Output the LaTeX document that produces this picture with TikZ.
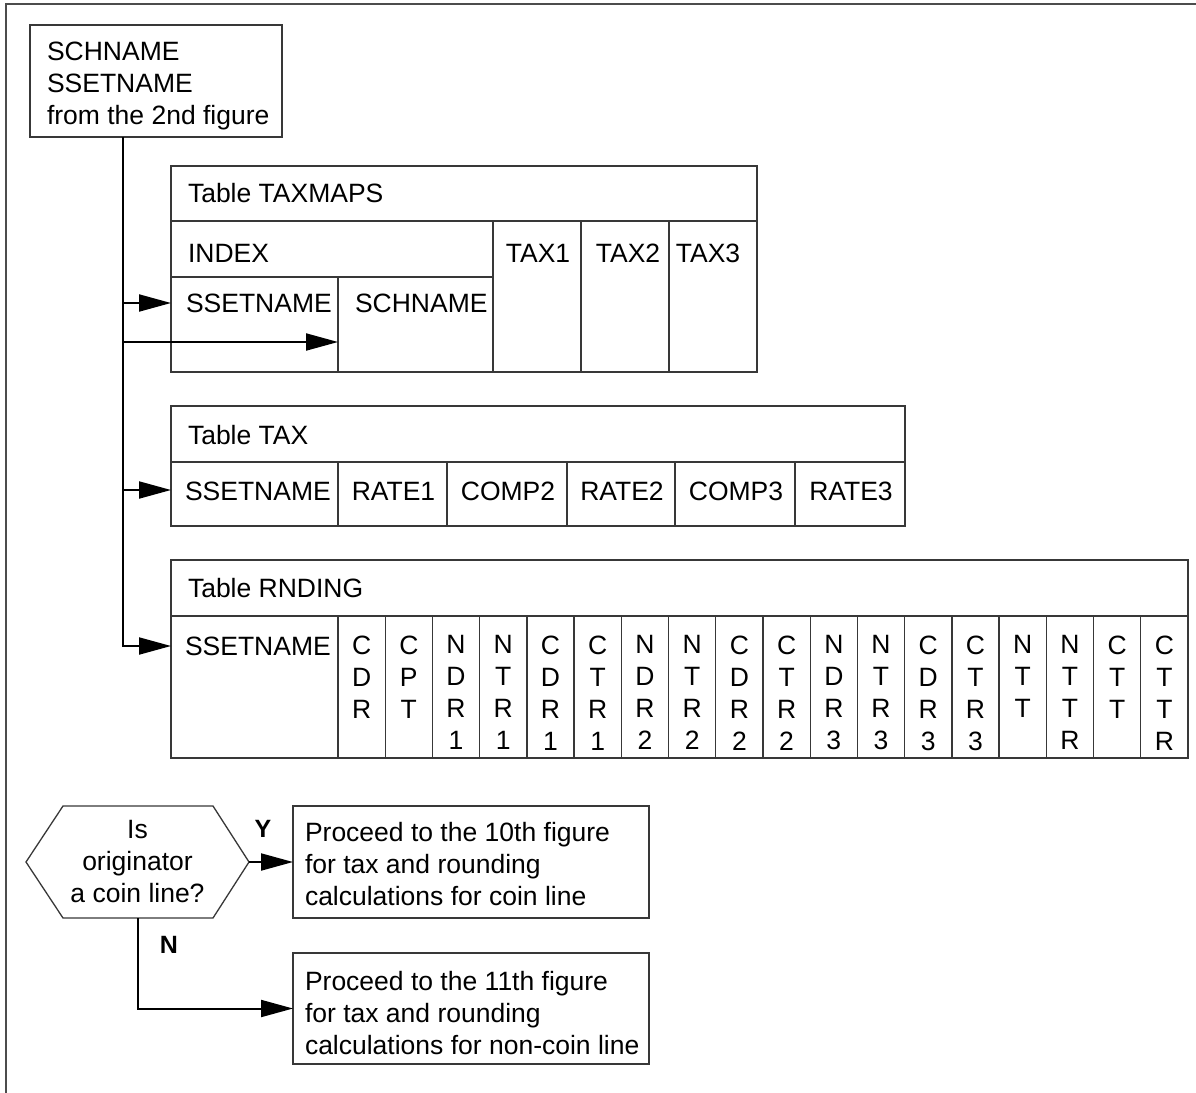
\documentclass[tikz,border=0pt]{standalone}
\usepackage{fontspec}
\setmainfont{Liberation Sans}
\usetikzlibrary{arrows.meta,calc}
\tikzset{
  frameline/.style={line width=1.2bp, draw=black!70},
  outline/.style={draw=black!78, line width=1.3bp},
  box/.style={outline, inner sep=0pt, outer sep=0pt, anchor=north west},
  txt/.style={inner sep=0pt, outer sep=0pt, font={\fontsize{26.5bp}{32bp}\selectfont}, text=black},
  lbl/.style={inner sep=0pt, outer sep=0pt, font={\fontsize{25bp}{30bp}\selectfont\bfseries}, text=black},
  conn/.style={line width=2bp, draw=black},
  arr/.style={-{Triangle[length=32bp,width=17bp]}},
}
\begin{document}
\begin{tikzpicture}[x=1bp,y=-1bp]
\useasboundingbox (0,0) rectangle (1196,1093);
\draw[frameline] (6,1093) -- (6,4) -- (1196,4);

% source box
\node[box, minimum width=252bp, minimum height=112bp] (src) at (30,25) {};
\node[txt, anchor=north west, align=left] (srct) at (47,41.5) {SCHNAME\\SSETNAME\\from the 2nd figure};

% Table TAXMAPS
\node[box, minimum width=586bp, minimum height=55bp] (tm) at (171,166) {};
\node[box, minimum width=322bp, minimum height=56bp] (tmidx) at (171,221) {};
\node[box, minimum width=167bp, minimum height=95bp] (tmss) at (171,277) {};
\node[box, minimum width=155bp, minimum height=95bp] (tmsc) at (338,277) {};
\node[box, minimum width=88bp, minimum height=151bp] (tmta) at (493,221) {};
\node[box, minimum width=88bp, minimum height=151bp] (tmtb) at (581,221) {};
\node[box, minimum width=88bp, minimum height=151bp] (tmtc) at (669,221) {};
\node[txt, anchor=base west] (tmT) at (188,202.5) {Table TAXMAPS};
\node[txt, anchor=base west] (tmidxT) at (188,262.5) {INDEX};
\node[txt, anchor=base west] (tmssT) at (186,312.5) {SSETNAME};
\node[txt, anchor=base west] (tmscT) at (355,312.5) {SCHNAME};
\node[txt, anchor=base] (tmtaT) at (538,262.5) {TAX1};
\node[txt, anchor=base] (tmtbT) at (628,262.5) {TAX2};
\node[txt, anchor=base] (tmtcT) at (708,262.5) {TAX3};

% Table TAX
\node[box, minimum width=734bp, minimum height=56bp] (tx) at (171,406) {};
\node[txt, anchor=base west] (txT) at (188,444) {Table TAX};
\node[box, minimum width=167bp, minimum height=64bp] (txss) at (171,462) {};
\node[txt, anchor=base west] (txssT) at (185,500.5) {SSETNAME};
\foreach \x/\w/\t/\n in {338/109/RATE1/a, 447/120/COMP2/b, 567/108/RATE2/c, 675/120/COMP3/d, 795/110/RATE3/e}{
  \node[box, minimum width=\w bp, minimum height=64bp] (tx\n) at (\x,462) {};
  \node[txt, anchor=base] (tx\n T) at (\x+\w/2+1,500.5) {\t};
}

% Table RNDING
\node[box, minimum width=1017bp, minimum height=56bp] (rn) at (171,560) {};
\node[txt, anchor=base west] (rnT) at (188,597.5) {Table RNDING};
\node[box, minimum width=167bp, minimum height=142bp] (rnss) at (171,616) {};
\node[txt, anchor=base west] (rnssT) at (185,655.5) {SSETNAME};
\foreach \t [count=\i] in {{C\\D\\R},{C\\P\\T},{N\\D\\R\\1},{N\\T\\R\\1},{C\\D\\R\\1},{C\\T\\R\\1},{N\\D\\R\\2},{N\\T\\R\\2},{C\\D\\R\\2},{C\\T\\R\\2},{N\\D\\R\\3},{N\\T\\R\\3},{C\\D\\R\\3},{C\\T\\R\\3},{N\\T\\T},{N\\T\\T\\R},{C\\T\\T},{C\\T\\T\\R}}{
  \pgfmathsetmacro\cx{338+(\i-1)*850/18}
  \node[box, minimum width=47.22bp, minimum height=142bp] (rnc\i) at (\cx,616) {};
  \node[txt, anchor=north, align=center] (rnc\i T) at (\cx+23.61,635.5) {\t};
}

% trunk and arrows
\coordinate (tr) at (123,0);
\coordinate (aa) at ($(tmss.north west)+(0,26)$);
\coordinate (ab) at ($(tmsc.north west)+(0,65)$);
\coordinate (ac) at ($(txss.north west)+(0,28)$);
\coordinate (ad) at ($(rnss.north west)+(0,30)$);
\draw[conn, arr] (src.south -| tr) |- (ad);
\draw[conn, arr] (aa -| tr) -- (aa);
\draw[conn, arr] (ab -| tr) -- (ab);
\draw[conn, arr] (ac -| tr) -- (ac);

% decision
\node[txt, align=center, minimum width=223bp, minimum height=112bp, anchor=north west] (dec) at (26,806) {Is\\originator\\a coin line?};
\draw[outline] (dec.west) -- ($(dec.north west)+(37,0)$) -- ($(dec.north east)+(-36,0)$) -- (dec.east) -- ($(dec.south east)+(-36,0)$) -- ($(dec.south west)+(37,0)$) -- cycle;
\node[lbl] (ylab) at (263,829) {Y};
\node[lbl] (nlab) at (169,945) {N};

\node[box, minimum width=356bp, minimum height=112bp] (bya) at (293,806) {};
\node[txt, anchor=north west, align=left] (byaT) at (305,822.5) {Proceed to the 10th figure\\for tax and rounding\\calculations for coin line};
\node[box, minimum width=356bp, minimum height=111bp] (byb) at (293,953) {};
\node[txt, anchor=north west, align=left] (bybT) at (305,971) {Proceed to the 11th figure\\for tax and rounding\\calculations for non-coin line};

\draw[conn, arr] (dec.east) -- (bya.west);
\draw[conn, arr] (dec.south) |- (byb.west);
\end{tikzpicture}
\end{document}
